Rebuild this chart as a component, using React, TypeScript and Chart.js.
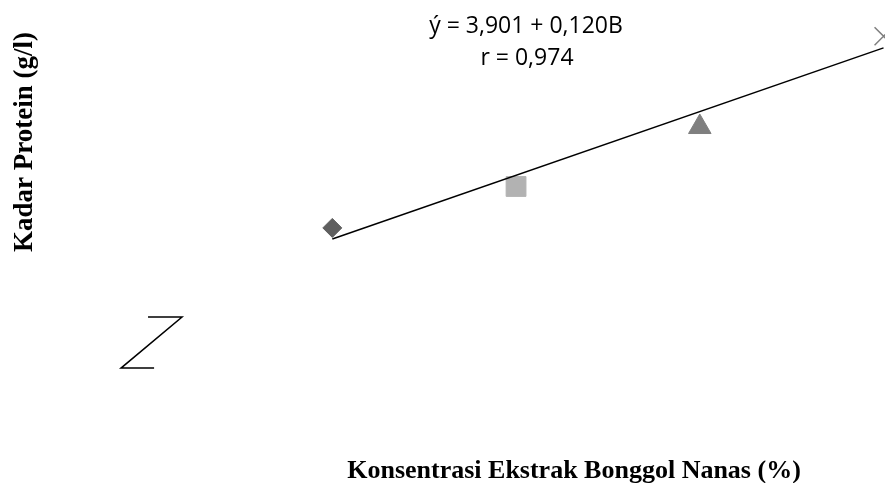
import React, { useEffect, useRef } from 'react';
import { Chart, registerables } from 'chart.js';

Chart.register(...registerables);

// ---- data ----
const concentrations = [10, 20, 30, 40];
const proteinLevels = [5.31, 6.09, 7.21, 8.92];
const seriesNames = ['10%', '20%', '30%', '40%'];
const trendX = [10, 40];
const trendY = [5.101, 8.701];
const breakX = [-0.03, 1.82, -1.5, 0.3];
const breakY = [3.63, 3.63, 2.67, 2.67];
const equationLabel = 'ý = 3,901 + 0,120B';
const rLabel = 'r = 0,974';
const xTitle = 'Konsentrasi Ekstrak Bonggol Nanas (%)';
const yTitle = 'Kadar Protein (g/l)';

const markerStyles = ['rectRot', 'rect', 'triangle', 'crossRot'];
const markerRadius = [9.5, 14, 13, 12.7];
const markerColors = ['#5f5f5f', '#b2b2b2', '#7f7f7f', '#7f7f7f'];

const textPlugin = {
  id: 'textPlugin',
  afterDraw(chart: any) {
    const ctx = chart.ctx;
    ctx.save();
    ctx.fillStyle = '#000';
    ctx.textAlign = 'center';
    ctx.textBaseline = 'alphabetic';
    ctx.font = '23px "Open Sans"';
    ctx.fillText(equationLabel, 526, 33);
    ctx.fillText(rLabel, 527, 65);
    ctx.font = 'bold 26px "Liberation Serif"';
    ctx.fillText(xTitle, 574, 478);
    ctx.translate(32, 142);
    ctx.rotate(-Math.PI / 2);
    ctx.font = 'bold 27px "Liberation Serif"';
    ctx.fillText(yTitle, 0, 0);
    ctx.restore();
  },
};

export default function App() {
  const ref = useRef<HTMLCanvasElement>(null);
  useEffect(() => {
    if (!ref.current) return;
    const pointSets = concentrations.map((x, i) => ({
      label: seriesNames[i],
      data: [{ x, y: proteinLevels[i] }],
      pointStyle: markerStyles[i],
      pointRadius: markerRadius[i],
      backgroundColor: markerColors[i],
      borderColor: markerColors[i],
      borderWidth: i === 3 ? 1.5 : 1,
      showLine: false,
    }));
    const chart = new Chart(ref.current, {
      type: 'scatter',
      data: {
        datasets: [
          {
            label: 'trend',
            data: trendX.map((x, i) => ({ x, y: trendY[i] })),
            showLine: true,
            pointRadius: 0,
            borderColor: '#000',
            borderWidth: 1.5,
          },
          {
            label: 'break',
            data: breakX.map((x, i) => ({ x, y: breakY[i] })),
            showLine: true,
            pointRadius: 0,
            borderColor: '#000',
            borderWidth: 1.5,
          },
          ...pointSets,
        ] as any,
      },
      options: {
        animation: false,
        responsive: true,
        maintainAspectRatio: false,
        layout: { padding: 0, autoPadding: false },
        plugins: { legend: { display: false }, tooltip: { enabled: false }, title: { display: false } },
        scales: {
          x: { type: 'linear', display: false, min: -8.086, max: 40.08 },
          y: { type: 'linear', display: false, min: 0.506, max: 9.602 },
        },
      },
      plugins: [textPlugin],
    });
    return () => chart.destroy();
  }, []);
  return (
    <div style={{ position: 'fixed', left: 0, top: 0, width: 885, height: 483, background: '#fff' }}>
      <canvas ref={ref} />
    </div>
  );
}
